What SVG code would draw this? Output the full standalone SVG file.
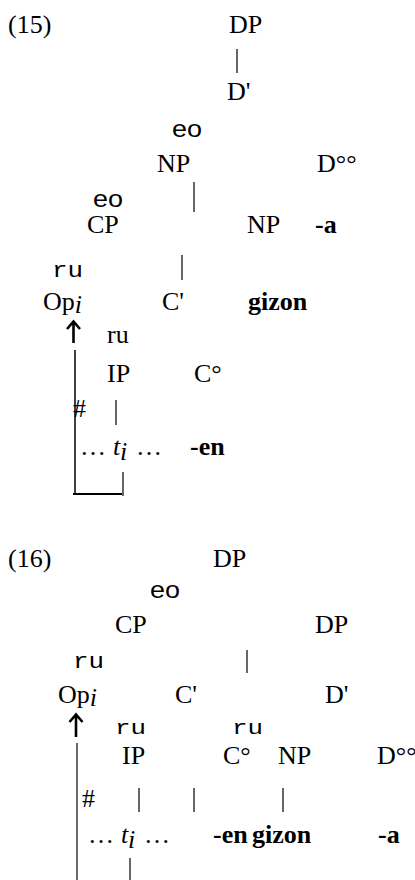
<svg xmlns="http://www.w3.org/2000/svg" width="415" height="880" viewBox="0 0 415 880">
<style>
text{font-family:"Liberation Serif","Times New Roman",serif;font-size:26px;fill:#000}
.b{font-weight:bold}
.it{font-style:italic}
.eo{font-family:"Liberation Sans",Arial,sans-serif;font-size:23px}
.ru{font-family:"Liberation Mono","Courier New",monospace;font-size:22px}
.ru2{font-family:"Liberation Mono","Courier New",monospace;font-size:21px}
.ln{stroke:#000;stroke-width:1.2;fill:none}
.mv{stroke:#000;stroke-width:1.5;fill:none}
.mvg{stroke:#6a6a6a;stroke-width:2;fill:none}
.ar{stroke:#000;stroke-width:2.6;fill:none;stroke-linecap:butt;stroke-linejoin:miter}
</style>
<rect width="415" height="880" fill="#fff"/>
<!-- (15) -->
<g id="ex15-label"><text x="8" y="33">(15)</text></g>
<g id="t15-DP"><text x="229" y="33">DP</text></g>
<g id="t15-Dbar"><text x="227" y="100">D'</text></g>
<g id="t15-eo1"><text class="eo" x="172" y="137" textLength="30" lengthAdjust="spacingAndGlyphs">eo</text></g>
<g id="t15-NP1"><text x="157" y="172">NP</text></g>
<g id="t15-D0"><text x="317" y="172">D°°</text></g>
<g id="t15-eo2"><text class="eo" x="93" y="207" textLength="30" lengthAdjust="spacingAndGlyphs">eo</text></g>
<g id="t15-CP"><text x="87" y="233">CP</text></g>
<g id="t15-NP2"><text x="247" y="233">NP</text></g>
<g id="t15-a"><text class="b" x="315" y="233">-a</text></g>
<g id="t15-ru1"><text class="ru" x="52" y="277" textLength="31" lengthAdjust="spacingAndGlyphs">ru</text></g>
<g id="t15-Op"><text x="43" y="310">Op<tspan class="it" dy="3">i</tspan></text></g>
<g id="t15-Cbar"><text x="162" y="310">C'</text></g>
<g id="t15-gizon"><text class="b" x="248" y="310">gizon</text></g>
<g id="t15-ru2"><text x="107" y="343">ru</text></g>
<g id="t15-IP"><text x="107" y="382">IP</text></g>
<g id="t15-C0"><text x="194" y="382">C°</text></g>
<g id="t15-hash"><text x="73" y="417">#</text></g>
<g id="t15-trace"><text x="80" y="455">…</text><text class="it" x="113" y="455">t</text><text class="it" x="120" y="460">i</text><text x="136" y="455">…</text></g>
<g id="t15-en"><text class="b" x="190" y="455">-en</text></g>
<!-- (16) -->
<g id="ex16-label"><text x="8" y="567">(16)</text></g>
<g id="t16-DP1"><text x="213" y="567">DP</text></g>
<g id="t16-eo"><text class="eo" x="150" y="598" textLength="30" lengthAdjust="spacingAndGlyphs">eo</text></g>
<g id="t16-CP"><text x="115" y="633">CP</text></g>
<g id="t16-DP2"><text x="315" y="633">DP</text></g>
<g id="t16-ru1"><text class="ru" x="73" y="668" textLength="31" lengthAdjust="spacingAndGlyphs">ru</text></g>
<g id="t16-Op"><text x="58" y="703">Op<tspan class="it" dy="3">i</tspan></text></g>
<g id="t16-Cbar"><text x="175" y="703">C'</text></g>
<g id="t16-Dbar"><text x="325" y="703">D'</text></g>
<g id="t16-ru2"><text class="ru2" x="115" y="734" textLength="31" lengthAdjust="spacingAndGlyphs">ru</text></g>
<g id="t16-ru3"><text class="ru2" x="232" y="734" textLength="31" lengthAdjust="spacingAndGlyphs">ru</text></g>
<g id="t16-IP"><text x="122" y="764">IP</text></g>
<g id="t16-C0"><text x="223" y="764">C°</text></g>
<g id="t16-NP"><text x="278" y="764">NP</text></g>
<g id="t16-D0"><text x="377" y="764">D°°</text></g>
<g id="t16-hash"><text x="82" y="807">#</text></g>
<g id="t16-trace"><text x="88" y="843">…</text><text class="it" x="121" y="843">t</text><text class="it" x="128" y="848">i</text><text x="144" y="843">…</text></g>
<g id="t16-en"><text class="b" x="213" y="843">-en</text></g>
<g id="t16-gizon"><text class="b" x="252" y="843">gizon</text></g>
<g id="t16-a"><text class="b" x="378" y="843">-a</text></g>
<!-- connectors -->
<g id="connectors">
<line class="ln" x1="237" y1="49" x2="237" y2="73"/>
<line class="ln" x1="194" y1="182" x2="194" y2="212"/>
<line class="ln" x1="182" y1="255" x2="182" y2="280"/>
<line class="ln" x1="116" y1="400" x2="116" y2="425"/>
<line class="ln" x1="123" y1="472" x2="123" y2="496"/>
<line class="mv" x1="75" y1="350" x2="75" y2="495"/>
<line x1="73" y1="494" x2="122" y2="494" stroke="#000" stroke-width="2"/>
<path class="ar" d="M73.5 343 V322 M67 329 L73.5 321.5 L80 329"/>
<line class="ln" x1="247" y1="650" x2="247" y2="673"/>
<line class="ln" x1="139" y1="788" x2="139" y2="812"/>
<line class="ln" x1="194" y1="788" x2="194" y2="812"/>
<line class="ln" x1="283" y1="788" x2="283" y2="812"/>
<line class="ln" x1="130" y1="858" x2="130" y2="880"/>
<line class="mvg" x1="77" y1="743" x2="77" y2="880"/>
<path class="ar" d="M76 737 V715 M69.5 722 L76 714.5 L82.5 722"/>
</g>
</svg>
